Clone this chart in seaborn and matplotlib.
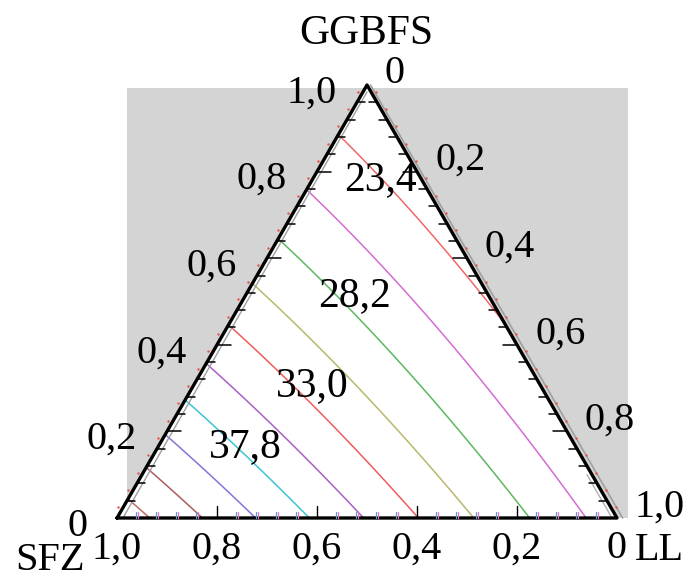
import numpy as np
import matplotlib.pyplot as plt
import matplotlib.tri as mtri
import seaborn as sns

sns.set_theme(style="white")
plt.rcParams['font.family'] = ['Liberation Serif', 'DejaVu Serif']
plt.rcParams['text.color'] = 'black'

# ==========================================
# DATA
# ==========================================
# Scheffe quadratic mixture model, coefficients estimated from where the
# contour lines cross the triangle edges
pure_coef = [46.5, 21.5, 24.5]          # SFZ, GGBFS, LL
pair_coef = [-9.5, -1.0, 1.0]           # SFZ*GGBFS, SFZ*LL, GGBFS*LL

levels = [23.4, 25.8, 28.2, 30.6, 33.0, 35.4, 37.8, 40.2, 42.6, 45.0]
level_colors = ['#f06868', '#d46cd4', '#5cb860', '#b8b86c', '#ee5c5c',
                '#a860c4', '#3cc4d4', '#8a72d8', '#b05c5c', '#c06a6a']

contour_labels = ['23,4', '28,2', '33,0', '37,8']
contour_label_xy = [(0.526, 0.676), (0.476, 0.444), (0.390, 0.264), (0.256, 0.142)]

tick_values = [0.0, 0.2, 0.4, 0.6, 0.8, 1.0]
tick_text = ['0', '0,2', '0,4', '0,6', '0,8', '1,0']
minor_step = 0.04

H = np.sqrt(3) / 2


def to_xy(s, g, l):
    # SFZ bottom-left, LL bottom-right, GGBFS on top
    return l + g / 2, g * H


def model(s, g, l):
    return (pure_coef[0] * s + pure_coef[1] * g + pure_coef[2] * l
            + pair_coef[0] * s * g + pair_coef[1] * s * l + pair_coef[2] * g * l)


# ==========================================
# FIGURE
# ==========================================
fig = plt.figure(figsize=(6.93, 5.8), dpi=100)
ax = fig.add_axes([0, 0, 1, 1])
ax.set_xlim(-0.234, 1.152)
ax.set_ylim(-0.124, 1.036)
ax.axis('off')

# grey plot background and white triangle
ax.add_patch(plt.Rectangle((0.02, 0.0), 1.002, 0.86, color='#d4d4d4', zorder=0, lw=0))
tri_x = [0, 1, 0.5, 0]
tri_y = [0, 0, H, 0]
ax.fill(tri_x, tri_y, color='white', zorder=1, lw=0)

# contour field on a barycentric grid
n = 160
gg, ll = np.meshgrid(np.linspace(0, 1, n + 1), np.linspace(0, 1, n + 1))
mask = gg + ll <= 1 + 1e-9
g_pts, l_pts = gg[mask], ll[mask]
s_pts = np.clip(1 - g_pts - l_pts, 0, 1)
px, py = to_xy(s_pts, g_pts, l_pts)
triang = mtri.Triangulation(px, py)
z = model(s_pts, g_pts, l_pts)
ax.tricontour(triang, z, levels=levels, colors=level_colors, linewidths=1.1, zorder=2)

for txt, (x, y) in zip(contour_labels, contour_label_xy):
    ax.text(x, y, txt, fontsize=30, ha='center', va='center', color='black', zorder=5)

# thin grey companion lines along the edges
off = 0.007
ax.plot([0 + off * 1.7, 0.5], [0, H - off * 2], color='#a0a0a0', lw=1.0, zorder=3)
ax.plot([0.5 + off, 1 + off * 1.6], [H, 0], color='#a0a0a0', lw=1.2, zorder=3)
ax.plot([0.94, 0.99], [0.1 * H, 0], color='#b0b0b0', lw=1.0, zorder=3)

# triangle frame
sns.lineplot(x=tri_x, y=tri_y, sort=False, estimator=None, color='black',
             linewidth=2.4, ax=ax, zorder=4)

# minor / major ticks
minor = np.round(np.arange(minor_step, 1.0, minor_step), 4)
for t in minor:
    major = np.isclose(t % 0.2, 0) or np.isclose(t % 0.2, 0.2)
    # left edge (GGBFS), ticks point right
    x0, y0 = to_xy(1 - t, t, 0)
    ln = 0.028 if major else 0.016
    ax.plot([x0, x0 + ln], [y0, y0], color='black', lw=1.1, zorder=4)
    # right edge (LL), ticks point left
    x1, y1 = to_xy(0, 1 - t, t)
    ax.plot([x1, x1 - ln], [y1, y1], color='black', lw=1.1, zorder=4)
    # bottom edge (SFZ), ticks point up
    x2, y2 = to_xy(t, 0, 1 - t)
    if major:
        ax.plot([x2, x2], [0, 0.024], color='black', lw=1.0, zorder=4)
    else:
        ax.plot([x2 - 0.002, x2 - 0.002], [0, 0.012], color='#6f8fe0', lw=0.9, zorder=4)
        ax.plot([x2 + 0.002, x2 + 0.002], [0, 0.012], color='#e07ab4', lw=0.9, zorder=4)

# little red dots outside the left and right edges
dot_t = np.arange(0.02, 1.0, minor_step)
lx, ly = to_xy(1 - dot_t, dot_t, 0 * dot_t)
ax.scatter(lx - 0.008, ly + 0.004, s=3, color='#e85050', lw=0, zorder=4)
rx, ry = to_xy(0 * dot_t, 1 - dot_t, dot_t)
ax.scatter(rx + 0.008, ry + 0.004, s=3, color='#e85050', lw=0, zorder=4)

# tick labels
for t, txt in zip(tick_values, tick_text):
    x0, y0 = to_xy(1 - t, t, 0)
    ax.text(x0 - 0.06, y0 - 0.016, txt, fontsize=29, ha='right', va='center', color='black', zorder=5)
    x1, y1 = to_xy(0, 1 - t, t)
    ax.text(x1 + 0.036, y1 + 0.022, txt, fontsize=29, ha='left', va='center', color='black', zorder=5)
    x2, y2 = to_xy(t, 0, 1 - t)
    ax.text(x2, -0.062, txt, fontsize=29, ha='center', va='center', color='black', zorder=5)

# vertex names
ax.text(0.498, 0.968, 'GGBFS', fontsize=30, ha='center', va='center', color='black')
ax.text(-0.134, -0.084, 'SFZ', fontsize=29, ha='center', va='center', color='black')
ax.text(1.084, -0.064, 'LL', fontsize=29, ha='center', va='center', color='black')

plt.savefig('out.png', dpi=100)
plt.close(fig)
